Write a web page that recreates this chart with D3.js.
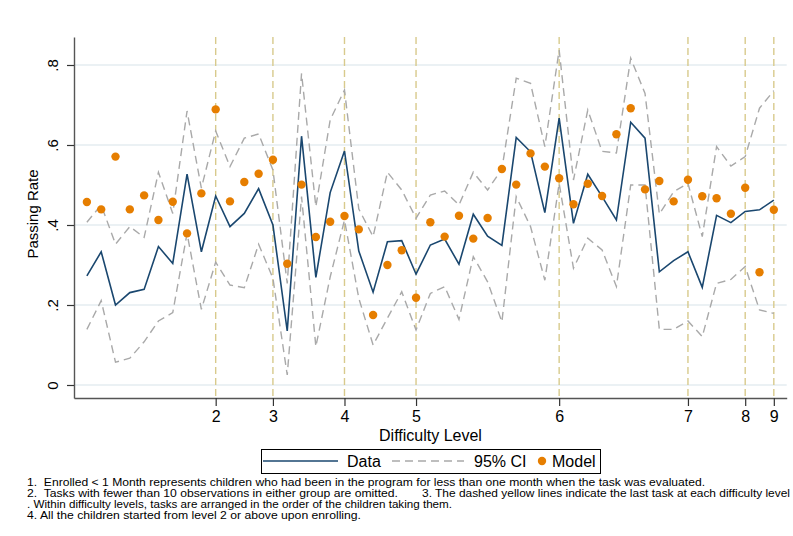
<!DOCTYPE html>
<html>
<head>
<meta charset="utf-8">
<script src="https://cdn.jsdelivr.net/npm/d3@7"></script>
<style>
  body { margin: 0; background: #fff; }
  svg { display: block; font-family: "Liberation Sans", Arial, Helvetica, sans-serif; }
</style>
</head>
<body>
<svg id="chart" width="793" height="536"></svg>
<script>
// Tasks in the order the children took them (1..49)
const tasks = d3.range(1, 50);

// Observed passing rate per task
const passRate = [0.273, 0.333, 0.200, 0.231, 0.239, 0.346, 0.304, 0.527, 0.333, 0.4725,
                  0.396, 0.429, 0.491, 0.400, 0.135, 0.622, 0.269, 0.481, 0.585, 0.335,
                  0.232, 0.358, 0.361, 0.277, 0.350, 0.365, 0.302, 0.427, 0.372, 0.349,
                  0.619, 0.583, 0.431, 0.667, 0.404, 0.527, 0.471, 0.4125, 0.657, 0.617,
                  0.283, 0.311, 0.333, 0.244, 0.424, 0.406, 0.434, 0.438, 0.462];

// 95% confidence interval bounds
const ciUpper = [0.407, 0.450, 0.352, 0.396, 0.369, 0.532, 0.429, 0.685, 0.492, 0.635,
                 0.546, 0.617, 0.6275, 0.5375, 0.254, 0.779, 0.446, 0.6625, 0.7375, 0.440,
                 0.371, 0.532, 0.4875, 0.417, 0.475, 0.485, 0.450, 0.532, 0.4875, 0.540,
                 0.767, 0.754, 0.596, 0.8375, 0.5125, 0.6875, 0.584, 0.580, 0.817, 0.729,
                 0.4275, 0.483, 0.504, 0.371, 0.596, 0.5475, 0.571, 0.692, 0.736];
const ciLower = [0.139, 0.211, 0.057, 0.067, 0.108, 0.160, 0.181, 0.379, 0.189, 0.307,
                 0.250, 0.243, 0.352, 0.267, 0.025, 0.471, 0.096, 0.270, 0.4125, 0.217,
                 0.100, 0.167, 0.233, 0.1375, 0.229, 0.246, 0.164, 0.321, 0.258, 0.158,
                 0.471, 0.396, 0.262, 0.504, 0.292, 0.367, 0.3375, 0.246, 0.500, 0.500,
                 0.139, 0.139, 0.160, 0.121, 0.254, 0.264, 0.296, 0.1875, 0.179];

// Model-predicted passing rate
const modelRate = [0.4575, 0.439, 0.571, 0.439, 0.474, 0.4125, 0.458, 0.379, 0.479, 0.689,
                   0.459, 0.5075, 0.528, 0.563, 0.303, 0.501, 0.370, 0.408, 0.4225, 0.389,
                   0.175, 0.300, 0.337, 0.218, 0.407, 0.371, 0.423, 0.366, 0.4175, 0.540,
                   0.501, 0.579, 0.546, 0.517, 0.452, 0.503, 0.4725, 0.627, 0.692, 0.489,
                   0.510, 0.459, 0.513, 0.472, 0.467, 0.428, 0.493, 0.282, 0.438];

// Last task of each difficulty level and its label
const levelTasks  = [10, 14, 19, 24, 34, 43, 47, 49];
const levelLabels = ["2", "3", "4", "5", "6", "7", "8", "9"];

const yTicks      = [0, 0.2, 0.4, 0.6, 0.8];
const yTickLabels = ["0", ".2", ".4", ".6", ".8"];

const legendLabels = ["Data", "95% CI", "Model"];

const svg = d3.select("#chart");

const x = d3.scaleLinear().domain([0.1, 49.9]).range([74, 786.7]);
const y = d3.scaleLinear().domain([-0.0325, 0.87]).range([398, 37]);

const NAVY = "#1a476f", GREY = "#a9a9a9", ORANGE = "#e67e00", KHAKI = "#d8ca8c";

// horizontal grid
svg.append("g")
  .selectAll("line").data(yTicks).join("line")
  .attr("x1", x.range()[0]).attr("x2", x.range()[1])
  .attr("y1", d => y(d)).attr("y2", d => y(d))
  .attr("stroke", "#e5ecf1").attr("stroke-width", 1.4);

// dashed markers at the last task of each level
svg.append("g")
  .selectAll("line").data(levelTasks).join("line")
  .attr("x1", d => x(d)).attr("x2", d => x(d))
  .attr("y1", y.range()[1]).attr("y2", y.range()[0])
  .attr("stroke", KHAKI).attr("stroke-width", 1.4)
  .attr("stroke-dasharray", "7,4");

const path = d3.line().x((d, i) => x(tasks[i])).y(d => y(d));

// confidence band edges
[ciUpper, ciLower].forEach(arr => {
  svg.append("path").attr("d", path(arr))
    .attr("fill", "none").attr("stroke", GREY).attr("stroke-width", 1.4)
    .attr("stroke-dasharray", "8,5");
});

// observed rate
svg.append("path").attr("d", path(passRate))
  .attr("fill", "none").attr("stroke", NAVY).attr("stroke-width", 1.6)
  .attr("stroke-linejoin", "miter");

// model points
svg.append("g")
  .selectAll("circle").data(modelRate).join("circle")
  .attr("cx", (d, i) => x(tasks[i])).attr("cy", d => y(d))
  .attr("r", 4.2).attr("fill", ORANGE);

// y axis
const yAxis = svg.append("g").attr("transform", "translate(74,0)")
  .call(d3.axisLeft(y).tickValues(yTicks).tickSize(7).tickSizeOuter(0)
        .tickFormat((d, i) => yTickLabels[i]));
yAxis.attr("font-family", null).attr("font-size", null);
yAxis.select(".domain").attr("stroke", "#555").attr("stroke-width", 1.4);
yAxis.selectAll(".tick line").attr("stroke", "#333").attr("stroke-width", 1.2);
yAxis.selectAll(".tick text")
  .attr("x", 0).attr("dy", null)
  .attr("transform", "translate(-16,0) rotate(-90)")
  .attr("text-anchor", "middle")
  .attr("font-size", 15).attr("fill", "#000");

// x axis
const xAxis = svg.append("g").attr("transform", "translate(0,398)")
  .call(d3.axisBottom(x).tickValues(levelTasks).tickSize(8).tickSizeOuter(0)
        .tickFormat((d, i) => levelLabels[i]));
xAxis.attr("font-family", null).attr("font-size", null);
xAxis.select(".domain").attr("stroke", "#555").attr("stroke-width", 1.4);
xAxis.selectAll(".tick line").attr("stroke", "#333").attr("stroke-width", 1.2);
xAxis.selectAll(".tick text").attr("y", 13).attr("font-size", 16).attr("fill", "#000");

// axis titles
svg.append("text").attr("x", 430.5).attr("y", 441)
  .attr("text-anchor", "middle").attr("font-size", 16).text("Difficulty Level");
svg.append("text").attr("transform", "translate(38,214) rotate(-90)")
  .attr("text-anchor", "middle").attr("font-size", 15).text("Passing Rate");

// legend
const lg = svg.append("g");
lg.append("rect").attr("x", 261.5).attr("y", 449.5).attr("width", 339).attr("height", 24)
  .attr("fill", "#fff").attr("stroke", "#000").attr("stroke-width", 1);
lg.append("line").attr("x1", 263).attr("x2", 338).attr("y1", 461).attr("y2", 461)
  .attr("stroke", NAVY).attr("stroke-width", 1.6);
lg.append("text").attr("x", 347).attr("y", 466.5).attr("font-size", 16).text(legendLabels[0]);
lg.append("line").attr("x1", 392).attr("x2", 464).attr("y1", 461).attr("y2", 461)
  .attr("stroke", GREY).attr("stroke-width", 1.4).attr("stroke-dasharray", "8,5");
lg.append("text").attr("x", 474).attr("y", 466.5).attr("font-size", 16).text(legendLabels[1]);
lg.append("circle").attr("cx", 542).attr("cy", 461).attr("r", 4.2).attr("fill", ORANGE);
lg.append("text").attr("x", 552).attr("y", 466.5).attr("font-size", 16).text(legendLabels[2]);

// footnotes, set as one block of lines
const notes = [
  { x: 27, y: 486, w: 678, t: "1.  Enrolled < 1 Month represents children who had been in the program for less than one month when the task was evaluated." },
  { x: 27, y: 497, w: 371, t: "2.  Tasks with fewer than 10 observations in either group are omitted." },
  { x: 422, y: 497, w: 368, t: "3. The dashed yellow lines indicate the last task at each difficulty level" },
  { x: 27, y: 508, w: 425, t: ". Within difficulty levels, tasks are arranged in the order of the children taking them." },
  { x: 27, y: 519, w: 334, t: "4. All the children started from level 2 or above upon enrolling." }
];
svg.append("text")
  .attr("font-size", 11.5)
  .style("white-space", "pre")
  .selectAll("tspan").data(notes).join("tspan")
  .attr("x", d => d.x).attr("y", d => d.y)
  .attr("textLength", d => d.w).attr("lengthAdjust", "spacingAndGlyphs")
  .text(d => d.t);
</script>
</body>
</html>
